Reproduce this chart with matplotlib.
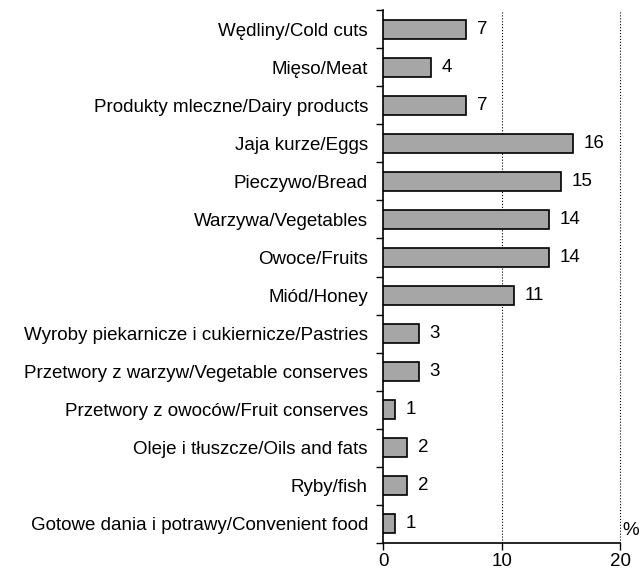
import matplotlib.pyplot as plt

# data (top to bottom)
categories = [
    'Wędliny/Cold cuts',
    'Mięso/Meat',
    'Produkty mleczne/Dairy products',
    'Jaja kurze/Eggs',
    'Pieczywo/Bread',
    'Warzywa/Vegetables',
    'Owoce/Fruits',
    'Miód/Honey',
    'Wyroby piekarnicze i cukiernicze/Pastries',
    'Przetwory z warzyw/Vegetable conserves',
    'Przetwory z owoców/Fruit conserves',
    'Oleje i tłuszcze/Oils and fats',
    'Ryby/fish',
    'Gotowe dania i potrawy/Convenient food',
]
values = [7, 4, 7, 16, 15, 14, 14, 11, 3, 3, 1, 2, 2, 1]
x_ticks = [0, 10, 20]

plt.rcParams['font.family'] = ['Liberation Sans', 'DejaVu Sans']
plt.rcParams['font.size'] = 13.5

fig = plt.figure(figsize=(6.42, 5.73), dpi=100)
ax = fig.add_axes([0.597, 0.0524, 0.369, 0.9301])

n = len(categories)
ypos = list(range(n))
ax.barh(ypos, values, height=0.5, color='#a6a6a6', edgecolor='black', linewidth=1.2, zorder=3)

for y, v in zip(ypos, values):
    ax.text(v + 0.9, y, str(v), va='center', ha='left')

ax.set_ylim(n - 0.5, -0.5)
ax.set_xlim(0, 20)

# category labels centred, ticks at boundaries
ax.set_yticks(ypos)
ax.set_yticklabels(categories)
ax.tick_params(axis='y', which='major', length=0, pad=11)
ax.set_yticks([i - 0.5 for i in range(n + 1)], minor=True)
ax.tick_params(axis='y', which='minor', length=5, width=1, direction='out')

ax.set_xticks(x_ticks)
ax.tick_params(axis='x', length=5, width=1, direction='out', pad=2)

for gx in x_ticks[1:]:
    ax.axvline(gx, color='black', linestyle=':', linewidth=0.8, zorder=1, clip_on=False)

for s in ['top', 'right']:
    ax.spines[s].set_visible(False)
ax.spines['left'].set_linewidth(1.2)
ax.spines['bottom'].set_linewidth(1.2)

ax.text(20.15, n - 0.6, '%', ha='left', va='bottom')

fig.savefig('out.png', dpi=100)
